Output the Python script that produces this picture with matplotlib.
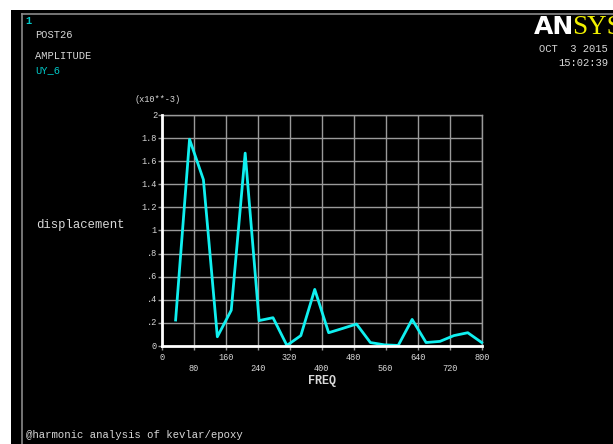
import numpy as np
import matplotlib.pyplot as plt
import matplotlib.transforms as mtransforms
from matplotlib.patches import Rectangle
from matplotlib.lines import Line2D

W, H = 613, 444

# harmonic response, UY at node 6 (values in x10**-3)
freq = [34.8, 69.6, 104.3, 139.1, 173.9, 208.7, 243.5, 278.3, 313.0, 347.8,
        382.6, 417.4, 452.2, 487.0, 521.7, 556.5, 591.3, 626.1, 660.9, 695.7,
        730.4, 765.2, 800.0]
uy_6 = [0.225, 1.79, 1.44, 0.08, 0.31, 1.67, 0.22, 0.245, 0.005, 0.09,
        0.49, 0.115, 0.152, 0.19, 0.03, 0.01, 0.005, 0.23, 0.03, 0.04,
        0.09, 0.115, 0.03]

x_ticks = [0, 80, 160, 240, 320, 400, 480, 560, 640, 720, 800]
y_ticks = [0, 0.2, 0.4, 0.6, 0.8, 1.0, 1.2, 1.4, 1.6, 1.8, 2.0]
y_labels = ['0', '.2', '.4', '.6', '.8', '1', '1.2', '1.4', '1.6', '1.8', '2']

mono = 'Liberation Mono'
txt = '#d8d8d8'
cyan = '#00c8c8'
grid = '#9a9a9a'


def fx(px):
    return px / W


def fy(py):
    return 1 - py / H


fig = plt.figure(figsize=(W / 100, H / 100), dpi=100, facecolor='white')

# window background and frame
fig.patches.append(Rectangle((fx(11), 0), 1, fy(10), transform=fig.transFigure,
                             facecolor='black', edgecolor='none', zorder=-5))
fig.lines.append(Line2D([fx(22), fx(22)], [0, fy(14)], transform=fig.transFigure,
                        color='#8a8a8a', lw=1.2, zorder=-4))
fig.lines.append(Line2D([fx(22), 1], [fy(14), fy(14)], transform=fig.transFigure,
                        color='#8a8a8a', lw=1.2, zorder=-4))

ax = fig.add_axes([fx(161.7), fy(346), 320 / W, 231 / H])
ax.set_facecolor('black')
ax.plot(freq, uy_6, color='#10f0f0', lw=2, zorder=3, clip_on=False)
ax.set_xlim(0, 800)
ax.set_ylim(0, 2)
ax.set_xticks(x_ticks)
ax.set_yticks(y_ticks)
ax.set_xticklabels([])
ax.set_yticklabels([])
ax.grid(True, color=grid, lw=1)
ax.tick_params(colors=grid, length=3, width=1)
for s in ['top', 'right']:
    ax.spines[s].set_color(grid)
    ax.spines[s].set_linewidth(1)
for s in ['left', 'bottom']:
    ax.spines[s].set_color('white')
    ax.spines[s].set_linewidth(2)
    ax.spines[s].set_zorder(4)

# staggered frequency labels
tx = mtransforms.blended_transform_factory(ax.transData, fig.transFigure)
for i, t in enumerate(x_ticks):
    row = 357.5 if i % 2 == 0 else 368.5
    fig.text(t, fy(row), str(t), transform=tx, ha='center', va='center',
             family=mono, fontsize=6.2, color=txt)

ty = mtransforms.blended_transform_factory(fig.transFigure, ax.transData)
for v, lab in zip(y_ticks, y_labels):
    fig.text(fx(157), v, lab, transform=ty, ha='right', va='center',
             family=mono, fontsize=6.2, color=txt)

fig.text(fx(135), fy(99.5), '(x10**-3)', family=mono, fontsize=6.2, color=txt,
         va='center')
fig.text(fx(321.7), fy(381), 'FREQ', family=mono, fontsize=8.5, color=txt,
         ha='center', va='center', weight='bold')
fig.text(fx(36), fy(224.5), 'displacement', family=mono, fontsize=8.8, color=txt,
         va='center')

# header block
fig.text(fx(25.5), fy(21), '1', family=mono, fontsize=7.5, color=cyan,
         va='center', weight='bold')
fig.text(fx(35), fy(35), 'POST26', family=mono, fontsize=7.5, color=txt, va='center')
fig.text(fx(35), fy(56), 'AMPLITUDE', family=mono, fontsize=7.5, color=txt, va='center')
fig.text(fx(35), fy(70), 'UY_6', family=mono, fontsize=7.5, color=cyan, va='center')

# logo runs off the right edge of the window
fig.text(fx(534), fy(27), 'AN', family='DejaVu Sans', fontsize=18, color='white',
         weight='heavy', va='center')
fig.text(fx(572), fy(27), 'SYS', family='Liberation Serif', fontsize=19.5,
         color='#f0f000', va='center')
fig.text(fx(608), fy(49), 'OCT  3 2015', family=mono, fontsize=7.6, color=txt,
         ha='right', va='center')
fig.text(fx(608), fy(63), '15:02:39', family=mono, fontsize=7.6, color=txt,
         ha='right', va='center')

fig.text(fx(26), fy(435), '@harmonic analysis of kevlar/epoxy', family=mono,
         fontsize=7.7, color=txt, va='center')

fig.savefig('out.png', dpi=100, facecolor=fig.get_facecolor())
